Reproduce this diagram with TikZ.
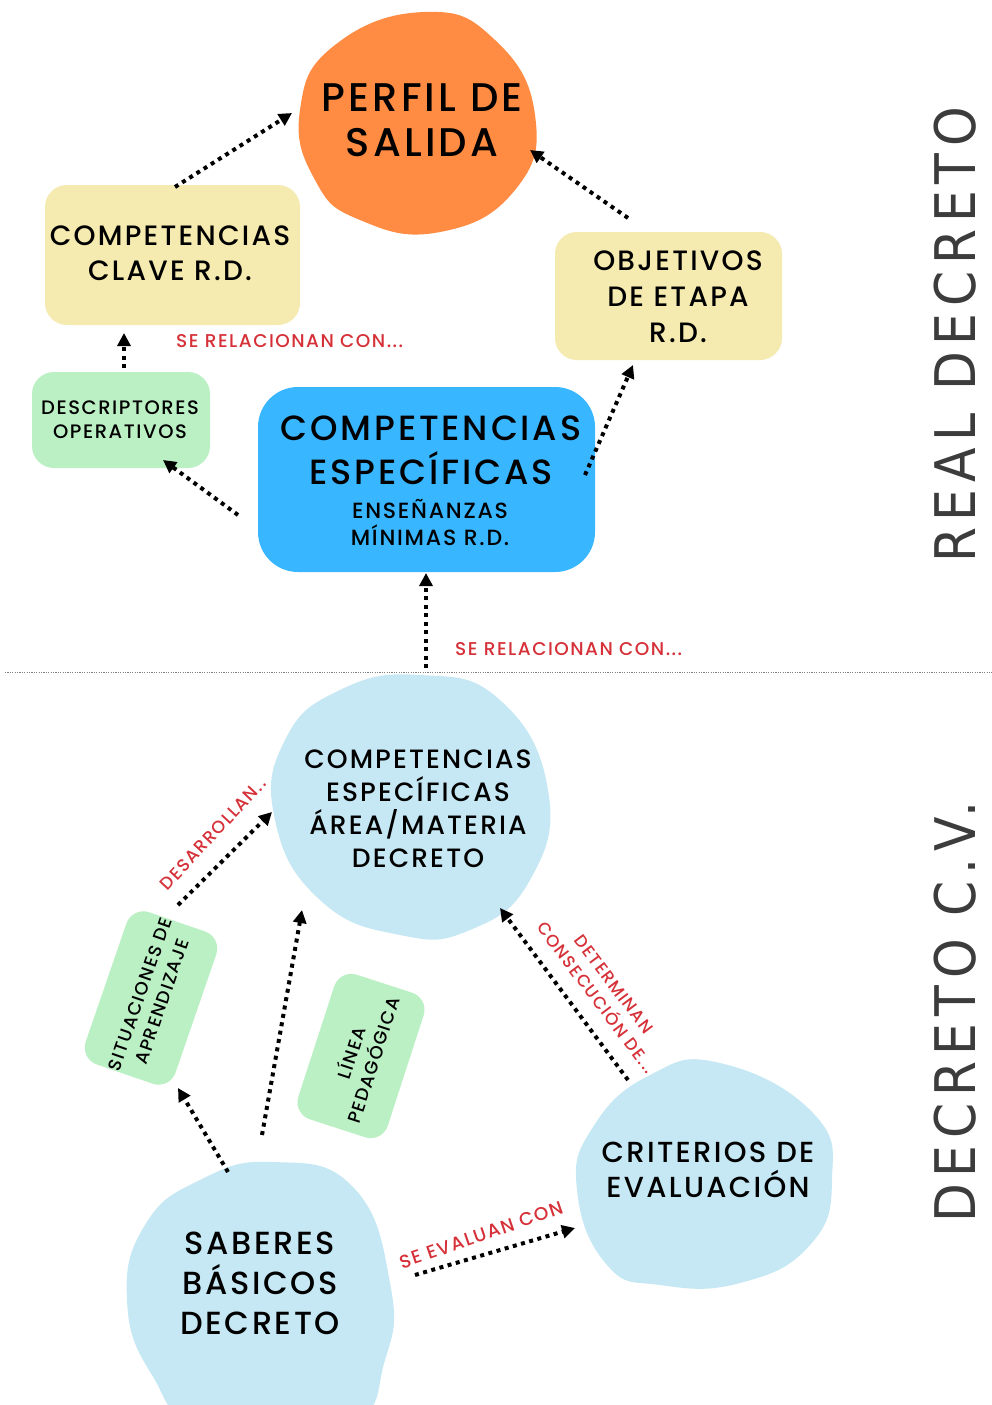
\documentclass[tikz,border=0pt]{standalone}
\usepackage{fontspec}
\setmainfont{Poppins}[UprightFont=* Medium, LetterSpace=8]
\newfontfamily\sidefont[FakeStretch=0.9, LetterSpace=12]{DejaVu Sans}
\usetikzlibrary{arrows.meta}
\definecolor{orangeC}{RGB}{255,140,66}
\definecolor{yellowC}{RGB}{245,234,176}
\definecolor{greenC}{RGB}{187,240,196}
\definecolor{blueC}{RGB}{56,182,255}
\definecolor{lblueC}{RGB}{197,232,244}
\definecolor{redC}{RGB}{214,48,56}
\definecolor{sideC}{RGB}{60,60,60}
\tikzset{
  conn/.style={line width=4pt, dash pattern=on 4pt off 4.5pt, -{Triangle[length=13pt,width=13pt]}},
  lbl/.style={text=redC, font=\fontsize{18.5}{22}\selectfont, inner sep=0pt},
  txt/.style={text=black, align=center, inner sep=0pt},
  rbox/.style={rounded corners=22pt},
  sidelbl/.style={text=sideC, rotate=90, font=\sidefont\fontsize{56}{56}\selectfont, inner sep=0pt},
  greenbox/.style={fill=greenC, rounded corners=18pt, align=center, inner sep=0pt, font=\fontsize{18}{23}\selectfont}
}
\begin{document}
\begin{tikzpicture}[x=1pt,y=-1pt]
\useasboundingbox (0,0) rectangle (992,1405);
\fill[white] (0,0) rectangle (992,1405);

% ---- shapes ----
\fill[orangeC] plot[smooth cycle, tension=0.8] coordinates {(425,12) (495,40) (535,115) (515,190) (440,232) (360,220) (315,180) (300,110) (335,45)};
\fill[yellowC, rbox] (45,185) rectangle (300,325);
\fill[yellowC, rbox] (555,232) rectangle (782,360);
\fill[greenC, rbox] (32,372) rectangle (210,468);
\fill[blueC, rounded corners=40pt] (258,387) rectangle (595,572);
\fill[lblueC] plot[smooth cycle, tension=0.8] coordinates {(420,675) (500,700) (548,790) (530,880) (470,930) (400,935) (320,900) (275,820) (285,740) (340,690)};
\fill[lblueC] plot[smooth cycle, tension=0.8] coordinates {(720,1063) (813,1113) (832,1180) (810,1245) (740,1283) (660,1285) (607,1265) (577,1190) (593,1127) (650,1075)};
\fill[lblueC] plot[smooth cycle, tension=0.8] coordinates {(273,1162) (353,1187) (390,1283) (385,1360) (345,1425) (205,1425) (152,1375) (127,1300) (145,1225) (200,1180)};

% ---- divider ----
\coordinate (divL) at (5,672);
\coordinate (divR) at (992,672);
\draw[gray, line width=1pt, dash pattern=on 1.2pt off 1.2pt] (divL) -- (divR);

% ---- texts ----
\node[txt, font=\fontsize{40}{45}\selectfont] (perfil) at (422,120) {PERFIL DE\\SALIDA};
\node[txt, font=\fontsize{28}{35}\selectfont] (clave) at (170,253) {COMPETENCIAS\\CLAVE R.D.};
\node[txt, font=\fontsize{28}{36}\selectfont] (objetivos) at (678,297) {OBJETIVOS\\DE ETAPA\\R.D.};
\node[txt, font=\fontsize{19.5}{24}\selectfont] (descriptores) at (120,420) {DESCRIPTORES\\OPERATIVOS};
\node[txt, font=\fontsize{35}{44}\selectfont] (cebig) at (431,450) {COMPETENCIAS\\ESPECÍFICAS};
\node[txt, font=\fontsize{22}{27}\selectfont] (cesmall) at (430,523) {ENSEÑANZAS\\MÍNIMAS R.D.};
\node[txt, font=\fontsize{26.5}{33}\selectfont] (cearea) at (418,809) {COMPETENCIAS\\ESPECÍFICAS\\ÁREA/MATERIA\\DECRETO};
\node[txt, font=\fontsize{29}{35}\selectfont] (criterios) at (708,1170) {CRITERIOS DE\\EVALUACIÓN};
\node[txt, font=\fontsize{32}{40}\selectfont] (saberes) at (260,1283) {SABERES\\BÁSICOS\\DECRETO};
\node[greenbox, rotate=71, minimum width=148pt, minimum height=95pt] (situaciones) at (151,998) {SITUACIONES DE\\APRENDIZAJE};
\node[greenbox, rotate=72, minimum width=152pt, minimum height=94pt] (linea) at (361,1056) {LÍNEA\\PEDAGÓGICA};

% ---- side labels ----
\node[sidelbl] (real) at (955,335) {REAL DECRETO};
\node[sidelbl] (decretocv) at (955,1012) {DECRETO C.V.};

% ---- red labels ----
\node[lbl, anchor=west] (rel1) at (176,341) {SE RELACIONAN CON...};
\node[lbl, anchor=west] (rel2) at (455,649) {SE RELACIONAN CON...};
\node[lbl, rotate=47, font=\fontsize{17.5}{22}\selectfont] (desarrollan) at (213,834) {DESARROLLAN..};
\node[lbl, rotate=-53, align=center, font=\fontsize{17}{22}\selectfont] (determinan) at (605,991) {DETERMINAN\\CONSECUCIÓN DE...};
\node[lbl, rotate=19] (evaluan) at (481,1235) {SE EVALUAN CON};

% ---- connectors ----
\coordinate (a1s) at (175,187);  \coordinate (a1e) at (292,113);
\coordinate (a2s) at (628,218);  \coordinate (a2e) at (530,150);
\coordinate (a3s) at (124,368);  \coordinate (a3e) at (124,333);
\coordinate (a4s) at (238,515);  \coordinate (a4e) at (163,460);
\coordinate (a5s) at (585,475);  \coordinate (a5e) at (633,365);
\coordinate (a6s) at (426,668);  \coordinate (a6e) at (426,573);
\coordinate (a7s) at (178,905);  \coordinate (a7e) at (272,812);
\coordinate (a8s) at (262,1135); \coordinate (a8e) at (302,910);
\coordinate (a9s) at (228,1172); \coordinate (a9e) at (178,1088);
\coordinate (a10s) at (628,1080); \coordinate (a10e) at (500,908);
\coordinate (a11s) at (415,1275); \coordinate (a11e) at (575,1228);
\draw[conn] (a1s) -- (a1e);
\draw[conn] (a2s) -- (a2e);
\draw[conn] (a3s) -- (a3e);
\draw[conn] (a4s) -- (a4e);
\draw[conn] (a5s) -- (a5e);
\draw[conn] (a6s) -- (a6e);
\draw[conn] (a7s) -- (a7e);
\draw[conn] (a8s) -- (a8e);
\draw[conn] (a9s) -- (a9e);
\draw[conn] (a10s) -- (a10e);
\draw[conn] (a11s) -- (a11e);
\end{tikzpicture}
\end{document}
